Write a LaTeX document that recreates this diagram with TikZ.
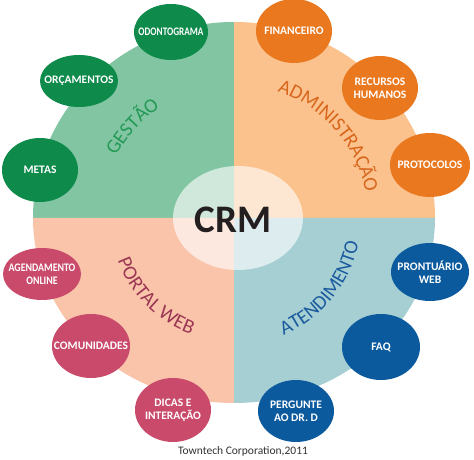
\documentclass[tikz,border=0pt]{standalone}
\usepackage{fontspec}
\usepackage{graphicx}
\setmainfont{Carlito}
\usetikzlibrary{decorations.text,calc}
\definecolor{qgreen}{HTML}{82C5A2}
\definecolor{qorange}{HTML}{FBC28D}
\definecolor{qpink}{HTML}{F9C4AA}
\definecolor{qteal}{HTML}{A6CFD3}
\definecolor{egreen}{HTML}{0E8A4B}
\definecolor{eorange}{HTML}{E9781F}
\definecolor{epink}{HTML}{C94A6B}
\definecolor{eblue}{HTML}{0B5A9E}
\definecolor{lgreen}{HTML}{259A57}
\definecolor{lorange}{HTML}{D8661C}
\definecolor{lpink}{HTML}{9B3653}
\definecolor{lblue}{HTML}{1B5B9E}
\definecolor{crmblack}{HTML}{231F20}
\definecolor{credit}{HTML}{333333}
\newcommand\satell[6]{%
  \fill[#2] (#3,#4) ellipse[x radius=#5pt, y radius=#6pt];
  \coordinate (#1) at (#3,#4);}
\newcommand\qlbl[1]{\fontsize{20}{24}\selectfont\color{#1}}
\begin{document}
\begin{tikzpicture}[x=1pt,y=1pt,
  sattxt/.style={text=white, font=\fontsize{11.5}{13}\selectfont\bfseries, align=center, inner sep=0pt},
  curvelbl/.style={decorate, decoration={text along path, text align=center, text={#1}}}]
\useasboundingbox (0,0) rectangle (474,460);
\fill[white] (0,0) rectangle (474,460);
\coordinate (C) at (234,242);
% quadrants
\fill[qgreen] (C) -- (234,438) arc[start angle=90, end angle=180, x radius=201pt, y radius=196pt] -- cycle;
\fill[qorange] (C) -- (435,242) arc[start angle=0, end angle=90, x radius=201pt, y radius=196pt] -- cycle;
\fill[qpink] (C) -- (33,242) arc[start angle=180, end angle=270, x radius=201pt, y radius=185pt] -- cycle;
\fill[qteal] (C) -- (234,57) arc[start angle=270, end angle=360, x radius=201pt, y radius=185pt] -- cycle;
% inner ellipse
\fill[white, opacity=0.62] (238,242) ellipse[x radius=65pt, y radius=52pt];
\node[font=\fontsize{39}{39}\selectfont\bfseries, text=crmblack, inner sep=0pt] (crm) at (233,240) {CRM};
% curved labels
\path[curvelbl={|\qlbl{lgreen}|GESTÃO}] ($(C)+(183:133pt)$) arc[start angle=183, end angle=93, radius=133pt];
\path[curvelbl={|\qlbl{lorange}|ADMINISTRAÇÃO}] ($(C)+(116:134pt)$) arc[start angle=116, end angle=-34, radius=134pt];
\path[curvelbl={|\qlbl{lpink}|PORTAL WEB}] ($(C)+(165:124pt)$) arc[start angle=165, end angle=285, radius=124pt];
\path[curvelbl={|\qlbl{lblue}|ATENDIMENTO}] ($(C)+(-99:127pt)$) arc[start angle=-99, end angle=21, radius=127pt];
% green
\satell{odo}{egreen}{171}{428}{37}{28}
\node[sattxt] (odo-t) at (odo) {\scalebox{0.8}[1]{ODONTOGRAMA}};
\satell{orc}{egreen}{79}{379}{39}{26}
\node[sattxt] (orc-t) at (orc) {ORÇAMENTOS};
\satell{met}{egreen}{40}{290}{38}{32}
\node[sattxt] (met-t) at (met) {METAS};
% orange
\satell{fin}{eorange}{294}{429}{38}{32}
\node[sattxt] (fin-t) at (fin) {FINANCEIRO};
\satell{rh}{eorange}{380}{372}{38}{32}
\node[sattxt] (rh-t) at (rh) {RECURSOS\\HUMANOS};
\satell{pro}{eorange}{430}{295}{40}{32}
\node[sattxt] (pro-t) at (pro) {PROTOCOLOS};
% pink
\satell{age}{epink}{42}{186}{39}{26}
\node[sattxt] (age-t) at (age) {\scalebox{0.86}[1]{AGENDAMENTO}\\\scalebox{0.86}[1]{ONLINE}};
\satell{com}{epink}{91}{114}{39}{32}
\node[sattxt] (com-t) at (com) {COMUNIDADES};
\satell{dic}{epink}{173}{50}{38}{32}
\node[sattxt] (dic-t) at (dic) {DICAS E\\INTERAÇÃO};
% blue
\satell{prt}{eblue}{430}{188}{39}{29}
\node[sattxt] (prt-t) at (prt) {PRONTUÁRIO\\WEB};
\satell{faq}{eblue}{381}{113}{39}{33}
\node[sattxt] (faq-t) at (faq) {FAQ};
\satell{per}{eblue}{296}{49}{38}{31}
\node[sattxt] (per-t) at (per) {PERGUNTE\\AO DR. D};
% credit
\node[font=\fontsize{11.5}{13}\selectfont, text=credit, inner sep=0pt] (cred) at (243,9) {Towntech Corporation,2011};
\end{tikzpicture}
\end{document}
